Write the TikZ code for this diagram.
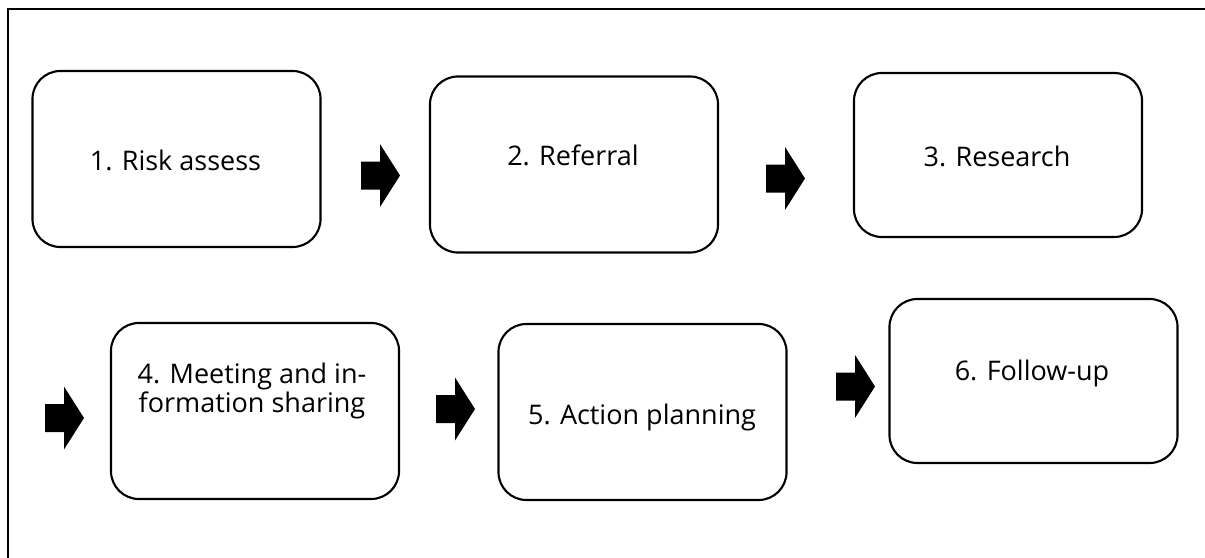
\documentclass[tikz,border=0pt]{standalone}
\usepackage{fontspec}
\setmainfont{Open Sans}
\usepackage{tikz}
\usetikzlibrary{
    calc,
    positioning
}

\tikzset{
    stepbox/.style={draw, line width=1.5pt, rounded corners=0.7cm,
        minimum width=7.2cm, minimum height=4.4cm},
    steptext/.style={inner sep=0pt, align=center,
        font=\fontsize{19.2}{20.8}\selectfont},
    blockarrow/.style={fill=black},
    frameline/.style={line width=1.5pt}
}

\begin{document}
\begin{tikzpicture}[x=0.025cm, y=-0.025cm]
    \useasboundingbox (0, 0) rectangle (1205, 558);
    \draw[frameline] (1205, 9) -- (8, 9) -- (8, 558);

    \node[stepbox] (s1) at (176.5, 159) {};
    \node[stepbox] (s2) at (574, 164.5) {};
    \node[stepbox, minimum height=4.1cm] (s3) at (998, 155) {};
    \node[stepbox] (s4) at (255, 411) {};
    \node[stepbox] (s5) at (642.5, 412) {};
    \node[stepbox, minimum height=4.1cm] (s6) at (1033.5, 381) {};

    \node[steptext, anchor=base] (t1) at (175.5, 171) {1. Risk assess};
    \node[steptext, anchor=base] (t2) at (573, 165) {2. Referral};
    \node[steptext, anchor=base] (t3) at (997, 166.5) {3. Research};
    \node[steptext] (t4) at (252, 391) {4. Meeting and in-\\formation sharing};
    \node[steptext, anchor=base] (t5) at (642, 424) {5. Action planning};
    \node[steptext, anchor=base] (t6) at (1032, 380) {6. Follow-up};

    \foreach \ax/\ay in {361/175.5, 766/178.5, 45/418, 436/409, 836/386.5}
        \fill[blockarrow] (\ax, \ay-14) -- ++(19, 0) -- ++(0, -17.5)
            -- ++(20, 31.5) -- ++(-20, 31.5) -- ++(0, -17.5)
            -- ++(-19, 0) -- cycle;
\end{tikzpicture}
\end{document}
